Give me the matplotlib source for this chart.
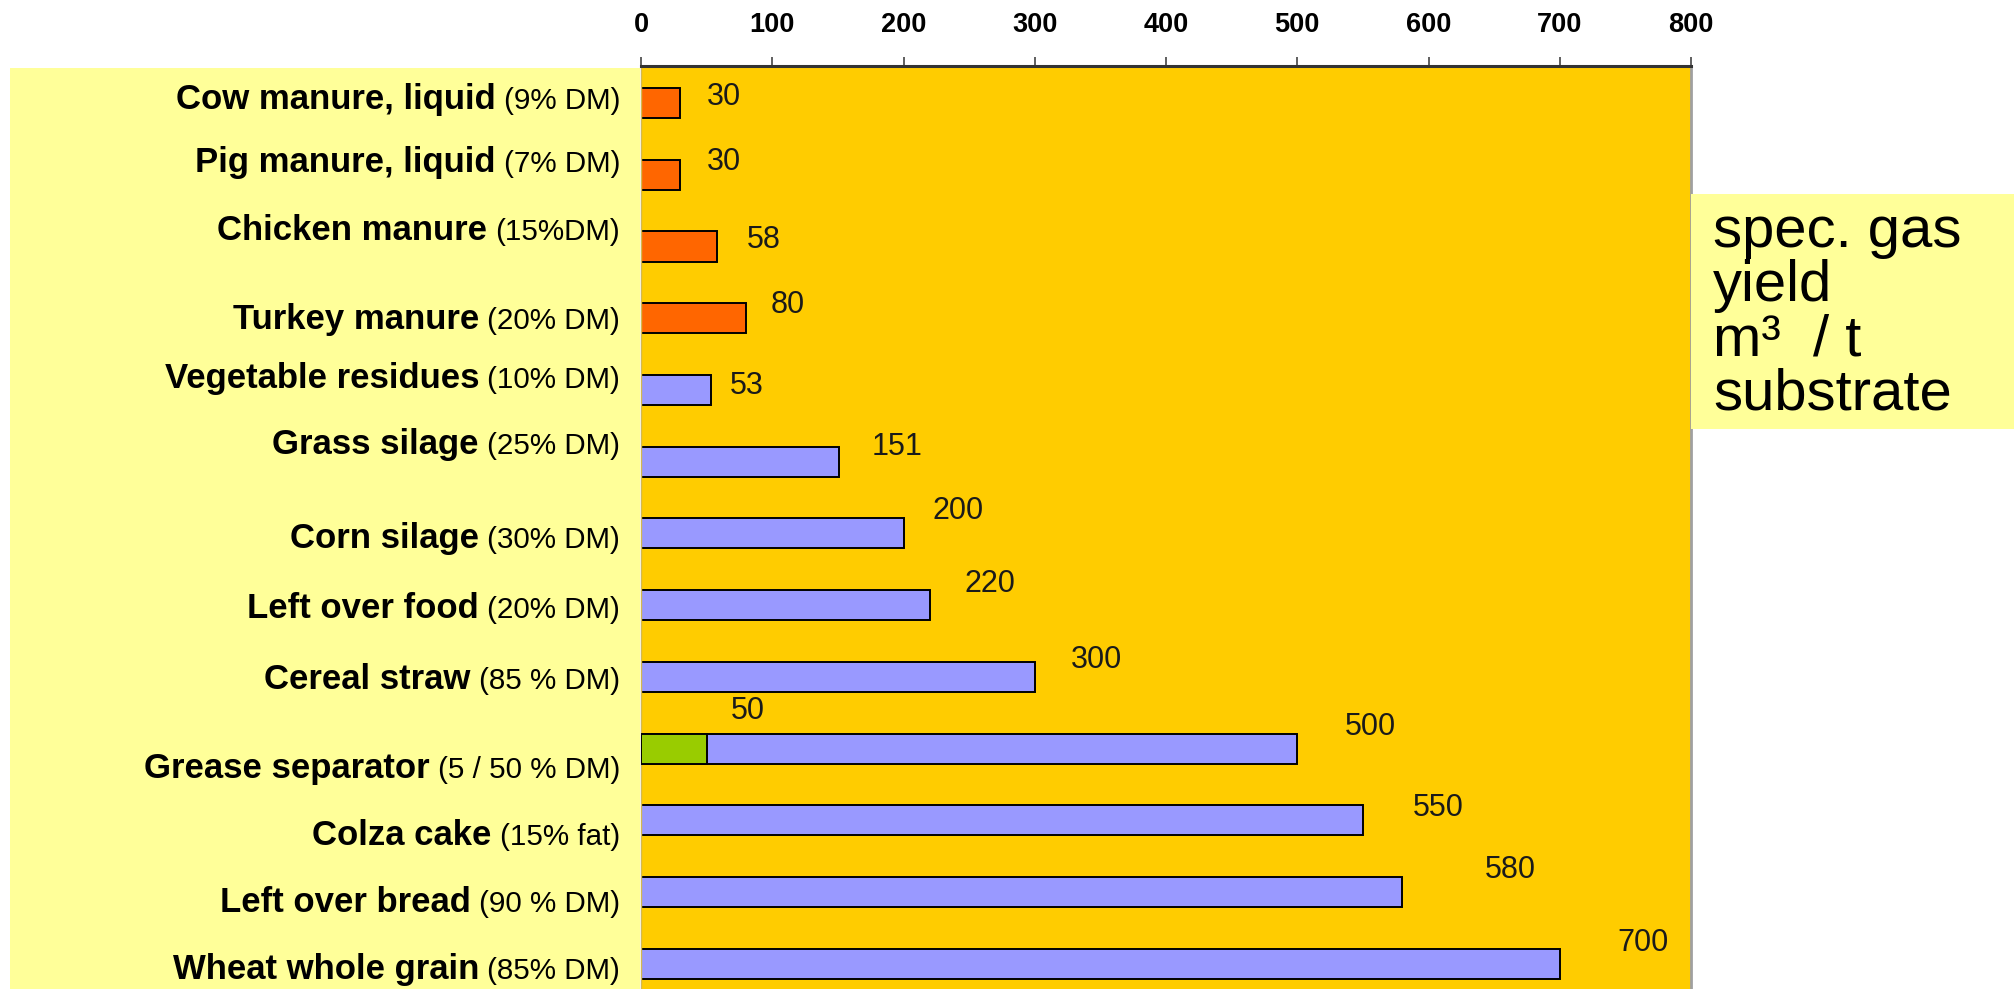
import matplotlib
matplotlib.use("Agg")
import matplotlib.pyplot as plt
import matplotlib.transforms as mtransforms
from matplotlib.patches import Rectangle

plt.rcParams["font.family"] = ["Liberation Sans", "DejaVu Sans"]

# specific biogas yield per tonne of fresh substrate
substrates = [
    "Cow manure, liquid", "Pig manure, liquid", "Chicken manure", "Turkey manure",
    "Vegetable residues", "Grass silage", "Corn silage", "Left over food",
    "Cereal straw", "Grease separator", "Colza cake", "Left over bread",
    "Wheat whole grain",
]
dry_matter = [
    "(9% DM)", "(7% DM)", "(15%DM)", "(20% DM)", "(10% DM)", "(25% DM)",
    "(30% DM)", "(20% DM)", "(85 % DM)", "(5 / 50 % DM)", "(15% fat)",
    "(90 % DM)", "(85% DM)",
]
gas_yield = [30, 30, 58, 80, 53, 151, 200, 220, 300, 500, 550, 580, 700]
substrate_group = ["manure"] * 4 + ["plant"] * 9
grease_row = 9
grease_low_yield = 50  # the 5 % DM grease separator

GROUP_COLORS = {"manure": "#FF6600", "plant": "#9999FF"}
LOW_COLOR = "#99CC00"
PLOT_BG = "#FFCC00"
PANEL_BG = "#FFFF99"

# hand placement: row label nudge (rows), value label offsets (pixels)
label_nudge = [-0.08, -0.21, -0.26, -0.01, -0.2, -0.28, 0.04, 0.01, 0.0,
               0.24, 0.18, 0.11, 0.04]
value_dx = [44, 44, 47, 42, 36, 58, 55, 60, 62, 73, 75, 108, 83]
value_dy = [-9, -16, -9, -16, -7, -18, -25, -24, -20, -25, -15, -25, -24]

W, H, DPI = 2015, 989, 100


def px_rect(x0, y0, x1, y1, **kw):
    """Figure-level rectangle from pixel corners (origin top-left)."""
    return Rectangle((x0 / W, 1 - y1 / H), (x1 - x0) / W, (y1 - y0) / H,
                     transform=fig.transFigure, edgecolor="none", **kw)


fig = plt.figure(figsize=(W / DPI, H / DPI), dpi=DPI)

# pale label panel behind the substrate names
fig.add_artist(px_rect(10, 68, 640, H, facecolor=PANEL_BG, zorder=-1))

ax = fig.add_axes([641 / W, 1 - 1014 / H, 1050 / W, (1014 - 66) / H])
ax.set_facecolor(PLOT_BG)

rows = list(range(len(substrates)))
colors = [GROUP_COLORS[g] for g in substrate_group]
ax.barh(rows, gas_yield, height=0.42, color=colors, edgecolor="black",
        linewidth=1.4, zorder=2)
ax.barh(grease_row, grease_low_yield, height=0.42, color=LOW_COLOR,
        edgecolor="black", linewidth=1.4, zorder=3)

ax.set_xlim(0, 800)
ax.set_ylim(12.7, -0.516)
ax.set_yticks([])
ax.xaxis.tick_top()
ax.set_xticks(range(0, 801, 100))
ax.tick_params(axis="x", top=True, bottom=False, direction="out", length=6.5,
               width=1.2, color="#444444", pad=14, labelsize=19.5)
for lab in ax.get_xticklabels():
    lab.set_fontweight("bold")

ax.spines["top"].set_color("#333333")
ax.spines["top"].set_linewidth(2.2)
ax.spines["right"].set_color("#A0A0A0")
ax.spines["right"].set_linewidth(2)
ax.spines["left"].set_color("#D4B850")
ax.spines["left"].set_linewidth(1)
ax.spines["bottom"].set_visible(False)

# row labels: bold name followed by the dry matter note
renderer = fig.canvas.get_renderer()
ytrans = mtransforms.blended_transform_factory(ax.transAxes, ax.transData)
for i, (name, dm) in enumerate(zip(substrates, dry_matter)):
    y = i + label_nudge[i]
    note = ax.annotate(dm, xy=(0, y), xycoords=ytrans, xytext=(-21, -12),
                       textcoords="offset pixels", ha="right", va="baseline",
                       fontsize=21.3, annotation_clip=False)
    w = note.get_window_extent(renderer).width
    ax.annotate(name, xy=(0, y), xycoords=ytrans, xytext=(-21 - w - 8, -12),
                textcoords="offset pixels", ha="right", va="baseline",
                fontsize=25, fontweight="bold", annotation_clip=False)

# value labels
for i, v in enumerate(gas_yield):
    ax.annotate(f"{v}", xy=(v, i), xytext=(value_dx[i], -value_dy[i] - 11),
                textcoords="offset pixels", ha="center", va="baseline",
                fontsize=22, color="#1a1a1a", annotation_clip=False)
ax.annotate(f"{grease_low_yield}", xy=(grease_low_yield, grease_row),
            xytext=(41, 41 - 11), textcoords="offset pixels", ha="center",
            va="baseline", fontsize=22, color="#1a1a1a", annotation_clip=False)

# unit box on the right
fig.add_artist(px_rect(1691, 194, W, 429, facecolor=PANEL_BG, zorder=1))
fig.text(1713 / W, 1 - 205 / H, "spec. gas\nyield\nm³  / t\nsubstrate",
         fontsize=41.8, ha="left", va="top", linespacing=1.0, zorder=2)

fig.savefig("out.png", dpi=DPI)
